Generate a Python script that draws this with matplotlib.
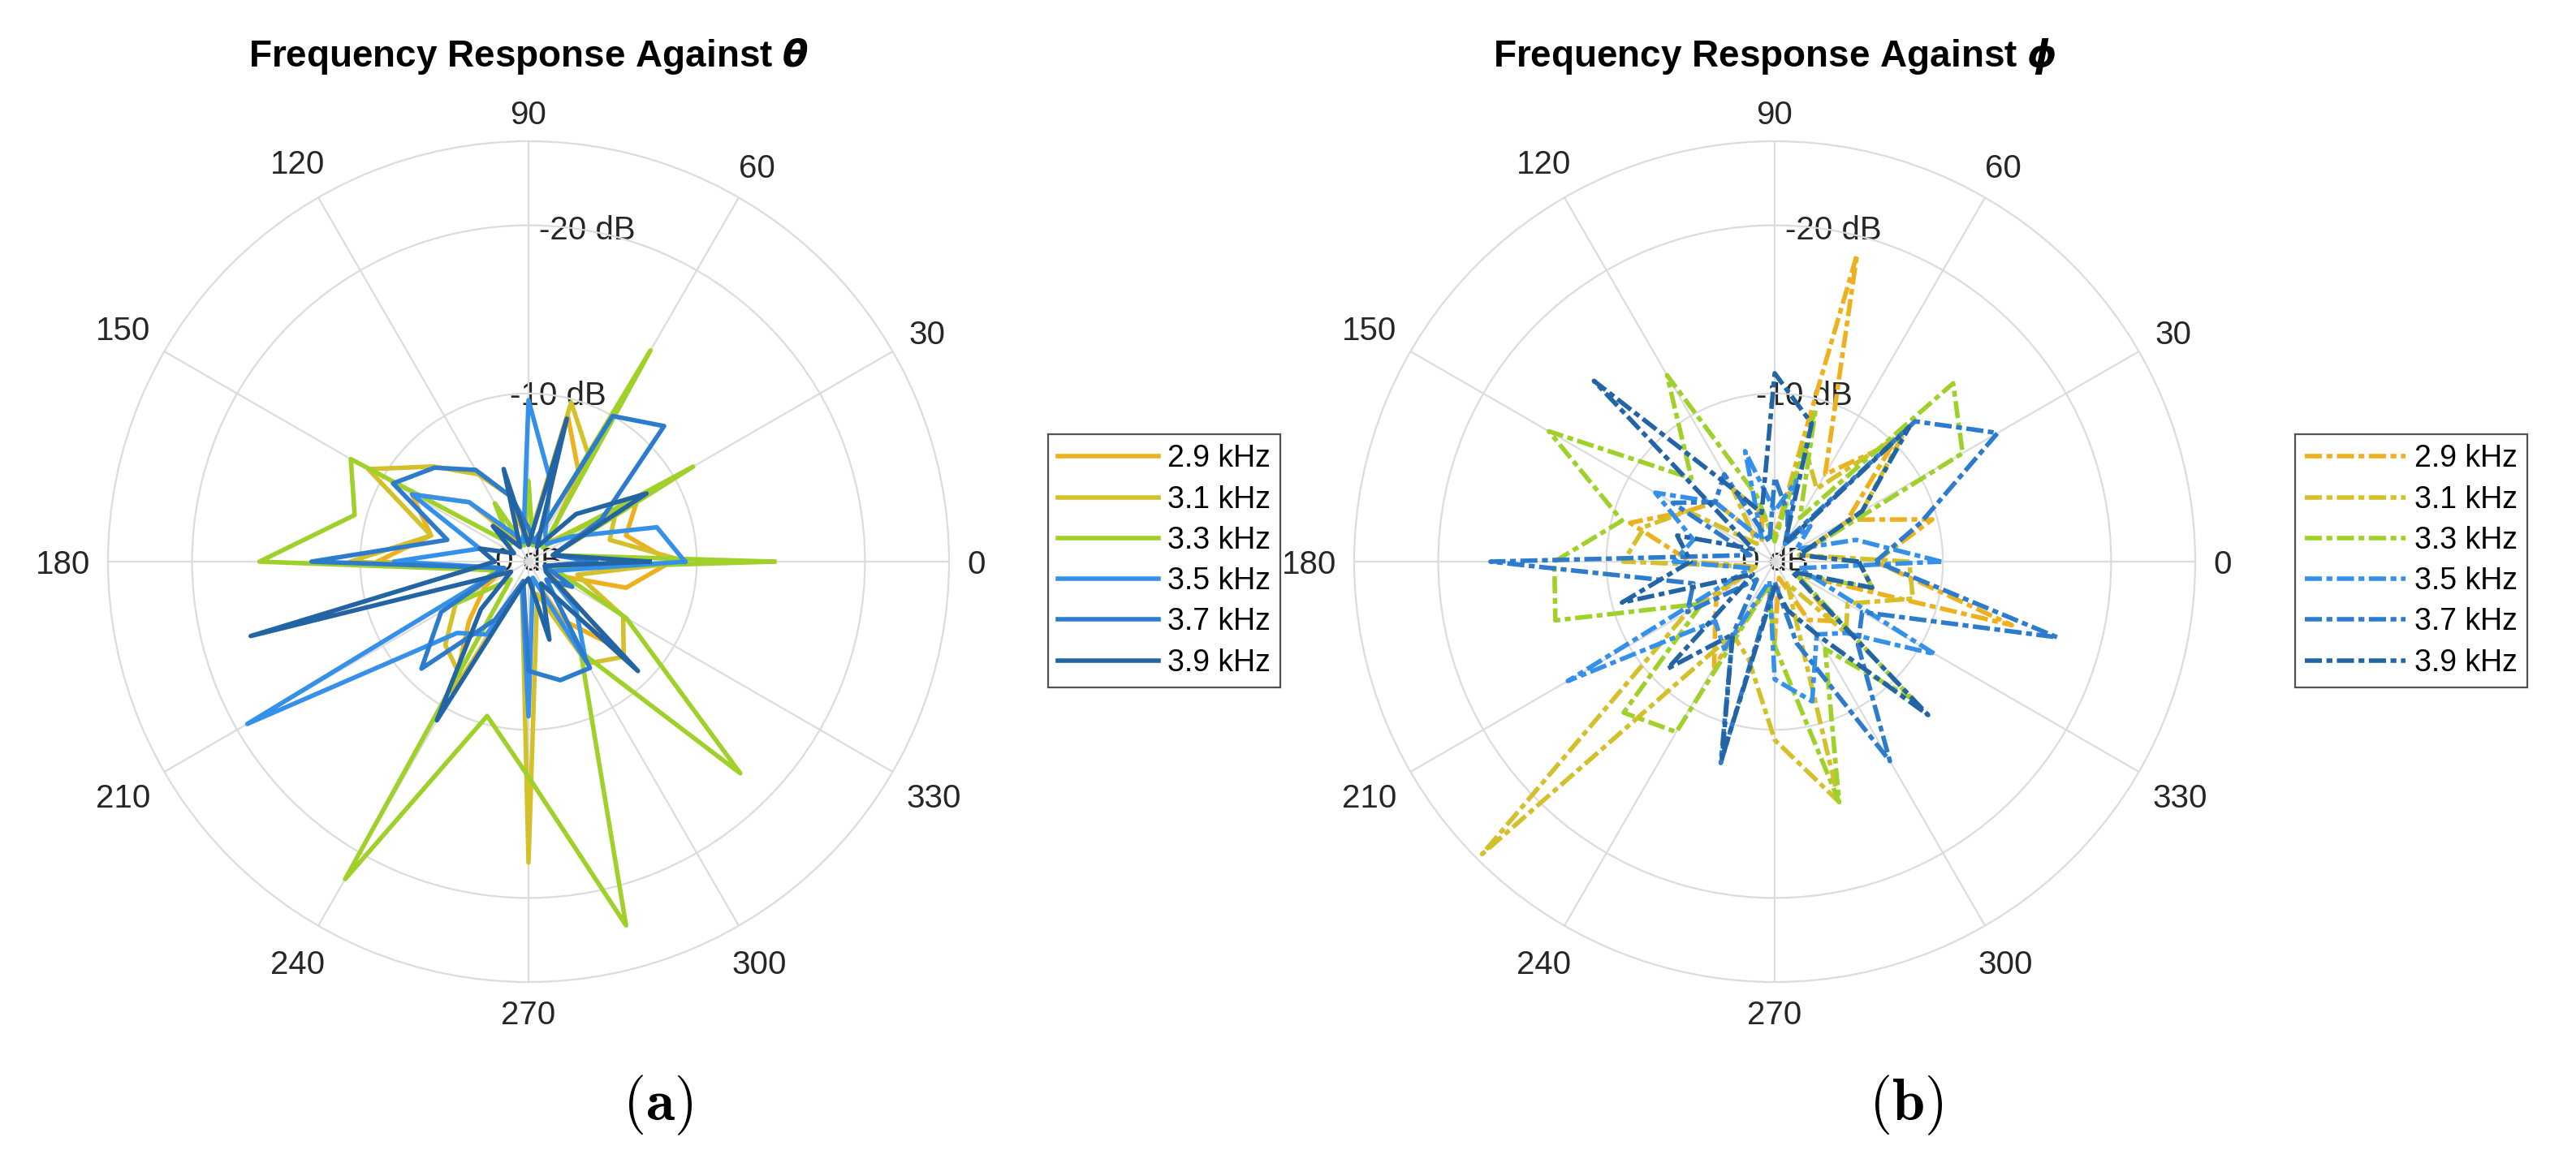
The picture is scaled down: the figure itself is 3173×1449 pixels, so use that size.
import numpy as np
import matplotlib
matplotlib.use("Agg")
import matplotlib.pyplot as plt

plt.rcParams['font.family'] = ['Liberation Sans', 'DejaVu Sans']
plt.rcParams['mathtext.fontset'] = 'custom'
plt.rcParams['mathtext.bfit'] = 'DejaVu Sans:italic:bold'

# angles of the measured points (deg), 15 deg steps
angles = [0, 15, 30, 45, 60, 75, 90, 105, 120, 135, 150, 165,
          180, 195, 210, 225, 240, 255, 270, 285, 300, 315, 330, 345]

labels = ["2.9 kHz", "3.1 kHz", "3.3 kHz", "3.5 kHz", "3.7 kHz", "3.9 kHz"]
colors = ["#EDB120", "#D4C02A", "#A0D02A", "#3490E8", "#2C7BCC", "#2264A4"]

# attenuation (dB below max) against theta
theta_29 = [8.5, 6, 7.5, 1.5, 6, 9, 1, 3, 1.5, 5, 8, 6, 9, 1.5, 3, 5, 9, 1.2, 8, 1, 4, 7, 1.5, 6]
theta_31 = [9.4, 5, 6, 1.5, 7.2, 9.8, 1.2, 4, 6, 8, 11, 6, 10.6, 1.5, 5, 7, 8, 1.5, 17.9, 2, 7, 8, 6.5, 3]
theta_33 = [14.6, 1.5, 11.3, 1.2, 14.5, 1, 4.8, 1, 4, 1.5, 12.2, 10.7, 16, 2, 5, 1.5, 21.8, 9.5, 12.8, 22.4, 6.2, 17.8, 6.7, 1.5]
theta_35 = [9.3, 7.9, 3, 1.5, 2, 5, 9.6, 1.2, 2, 5, 8, 3, 8, 1.5, 19.3, 6, 5, 1.5, 9.2, 1, 6.8, 4, 1.2, 2]
theta_37 = [4, 1.5, 5, 11.4, 10, 1.2, 2, 4, 6.3, 7.9, 9.3, 5, 12.9, 1.5, 6, 9, 4, 1.2, 6.5, 7.3, 7.3, 1.5, 3, 1]
theta_39 = [7.2, 1.5, 8.1, 4, 1, 8.8, 1, 5.7, 1, 3, 1, 3, 2, 17.1, 1.2, 4, 10.9, 1.5, 1, 4.8, 1.5, 9.2, 1.2, 1]

# attenuation (dB below max) against phi
phi_29 = [6, 9.7, 5, 10, 6, 18.9, 1.5, 3, 1.5, 5, 6, 8.9, 5, 1.2, 4, 5, 7.2, 1.5, 4.7, 1, 4, 5, 1.5, 14.6]
phi_31 = [8, 1.5, 6, 10.9, 5, 7, 1.5, 3, 5, 1.5, 6, 8, 9, 1.2, 6, 24.6, 5, 6, 10.6, 14.8, 1.5, 6, 5, 8.5]
phi_33 = [5, 1.5, 12.9, 15, 3, 9.4, 1.2, 4, 12.8, 7, 15.5, 9.4, 13.1, 13.5, 5, 12.7, 11.7, 1.5, 5, 14.8, 6, 11.5, 1.5, 6]
phi_35 = [9.9, 5, 1.5, 3, 1.2, 5, 3, 6.8, 1.5, 5, 8.2, 5, 6, 1.5, 14.2, 5, 6, 1.2, 7, 8.6, 5, 6, 11, 1.5]
phi_37 = [6, 9, 15.3, 11.8, 1.5, 3, 5, 1.2, 6, 5, 7, 1.5, 16.9, 5, 6, 1.5, 5, 12.4, 1.2, 5, 13.7, 7, 6, 17.4]
phi_39 = [5, 1.5, 6, 11.3, 1.2, 8.5, 11.2, 3, 5, 15.2, 1.5, 6, 5, 9.4, 1.5, 9, 5, 12.1, 1.5, 3, 5, 12.9, 1.2, 6]

r_ticks = [0, 10, 20]
r_ticklabels = ["0 dB", "-10 dB", "-20 dB"]
r_max = 25

W, H, DPI = 3173, 1449, 200
fig = plt.figure(figsize=(W / DPI, H / DPI), dpi=DPI)
fs = 14.5
grid_c = "#dcdcdc"
txt_c = "#262626"


def polar_panel(rect, series, ls, title, cap, cap_x, leg_x):
    ax = fig.add_axes(rect, projection='polar')
    th = np.deg2rad(angles + [360])
    for vals, c, lab in zip(series, colors, labels):
        ax.plot(th, vals + [vals[0]], color=c, lw=2.0, ls=ls, label=lab, zorder=2)
    ax.set_rlim(0, r_max)
    ax.set_rticks(r_ticks[1:])
    ax.set_yticklabels([])
    ax.set_xticks(np.deg2rad(np.arange(0, 360, 30)))
    ax.set_xticklabels([])
    ax.grid(True, color=grid_c, lw=0.8)
    ax.spines['polar'].set_color(grid_c)
    ax.spines['polar'].set_linewidth(0.8)
    ax.tick_params(length=0)
    # theta labels, placed just outside the outer ring
    g = 7.9
    for a in range(0, 360, 30):
        s = str(a)
        hw = len(s) * 0.556 * fs / 2
        hh = 0.72 * fs / 2
        t = np.deg2rad(a)
        d = g + abs(np.cos(t)) * hw + abs(np.sin(t)) * hh
        ax.annotate(s, (t, r_max), xytext=(d * np.cos(t), d * np.sin(t) - 1.5),
                    textcoords='offset points', ha='center', va='center',
                    fontsize=fs, color=txt_c, annotation_clip=False)
    # radial labels along 80 deg
    for r, s in zip(r_ticks, r_ticklabels):
        ax.text(np.deg2rad(80), r, s, ha='center', va='center', fontsize=fs,
                color=txt_c, zorder=1.5)
    leg = ax.legend(loc='center left', bbox_to_anchor=(leg_x, 0.5231),
                    bbox_transform=fig.transFigure, fontsize=13.5,
                    frameon=True, fancybox=False, edgecolor=txt_c,
                    borderpad=0.32, labelspacing=0.38, handlelength=3.3,
                    handletextpad=0.3, borderaxespad=0)
    leg.get_frame().set_linewidth(0.8)
    cx = rect[0] + rect[2] / 2
    fig.text(cx, 1 - 82 / H, title, ha='center', va='baseline',
             fontsize=16.5, fontweight='bold', color='black')
    fig.text(cap_x, 1 - 1362 / H, cap, ha='center', va='center', fontsize=26,
             math_fontfamily='cm')
    return ax


dashdot = (0, (3.8, 1.0, 1.3, 1.0))
polar_panel([133 / W, 1 - 1210 / H, 1036 / W, 1036 / H],
            [theta_29, theta_31, theta_33, theta_35, theta_37, theta_39], '-',
            r'Frequency Response Against $\boldsymbol{\theta}$',
            r'$\mathbf{(a)}$', 810 / W, 1291 / W)
polar_panel([1668 / W, 1 - 1210 / H, 1036 / W, 1036 / H],
            [phi_29, phi_31, phi_33, phi_35, phi_37, phi_39], dashdot,
            r'Frequency Response Against $\boldsymbol{\phi}$',
            r'$\mathbf{(b)}$', 2348 / W, 2827 / W)

fig.savefig("out.png", dpi=DPI)
